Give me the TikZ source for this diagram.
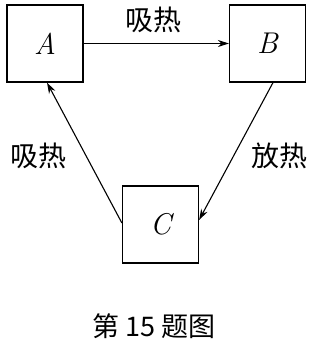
\documentclass[tikz,border=0pt]{standalone}
\usepackage{fontspec}
\newfontfamily\cjk{Noto Sans CJK SC}
\usetikzlibrary{arrows.meta,calc}
\begin{document}
\begin{tikzpicture}[x=1pt,y=-1pt,
  boxnode/.style={draw,line width=1.2pt,minimum width=76pt,minimum height=77pt,inner sep=0pt,font=\fontsize{30}{32}\selectfont\itshape},
  conn/.style={line width=1.1pt,-{Stealth[length=11pt,width=7pt]}},
  lbl/.style={font=\cjk\fontsize{28}{30}\selectfont,inner sep=0pt}]
\useasboundingbox (0,0) rectangle (315,344);
\node[boxnode] (A) at (45,43.5) {A};
\node[boxnode] (B) at (267.5,43.5) {B};
\node[boxnode] (C) at (160.5,224.5) {C};
\draw[conn] (A.east) -- (B.west);
\draw[conn] ($(B.south)+(5.5,0)$) -- ($(C.east)+(0,-4.5)$);
\draw[conn] ($(C.west)+(0,-1.5)$) -- ($(A.south)+(2,0)$);
\node[lbl] (t1) at (153,20) {吸热};
\node[lbl] (t2) at (38,156) {吸热};
\node[lbl] (t3) at (279,156) {放热};
\node[lbl,font=\cjk\fontsize{27}{29}\selectfont] (cap) at (154,326) {第 15 题图};
\end{tikzpicture}
\end{document}
